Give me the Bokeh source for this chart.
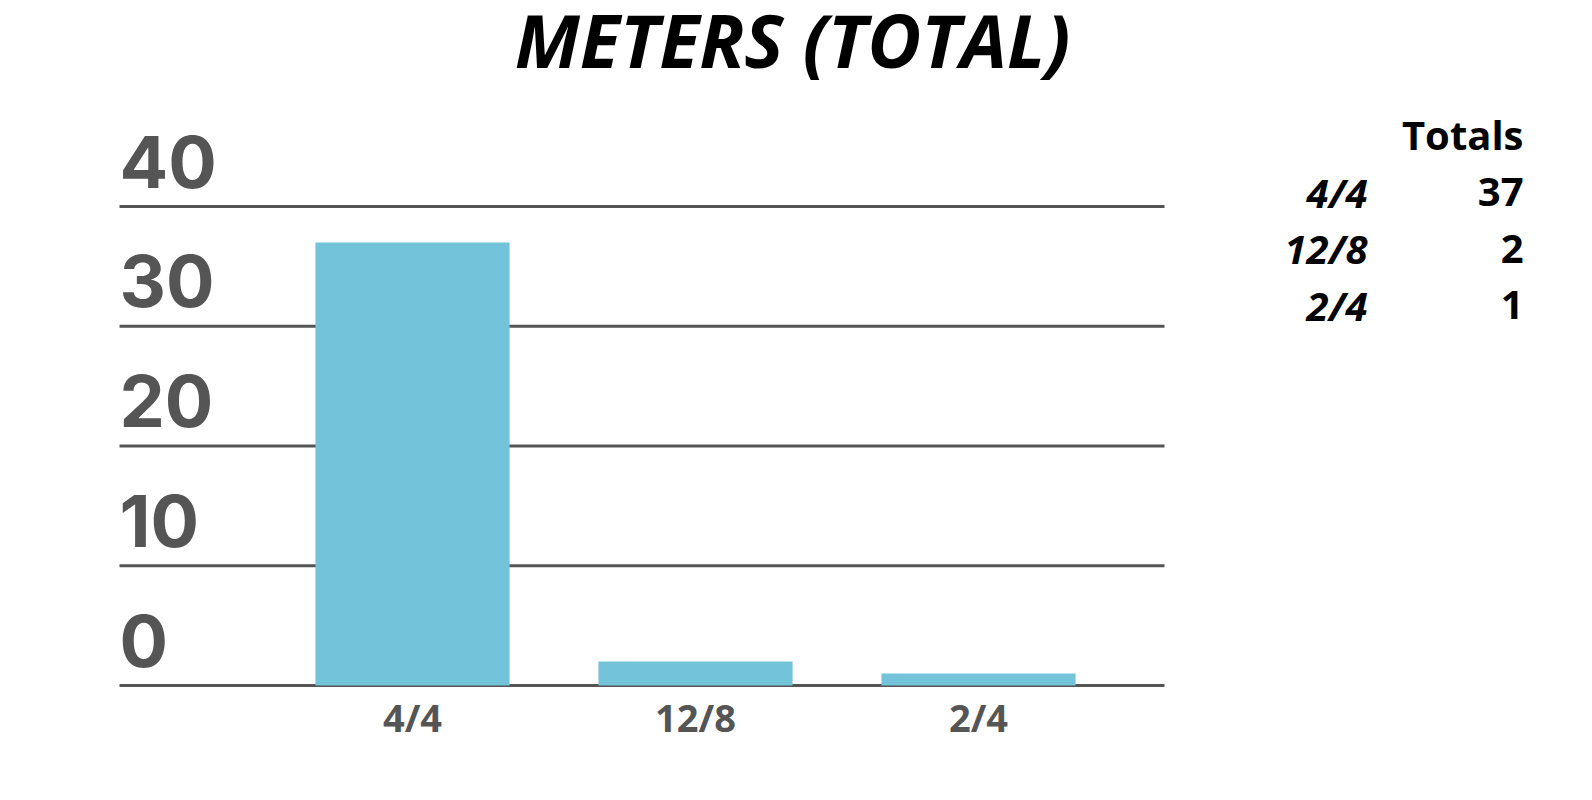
from bokeh.plotting import figure
from bokeh.models import Range1d, FixedTicker
from bokeh.embed import file_html
from bokeh.resources import INLINE
from bokeh.core.properties import value

# ---- data ----
title_text = "METERS (TOTAL)"
categories = ["4/4", "12/8", "2/4"]
counts = [37, 2, 1]
y_ticks = [0, 10, 20, 30, 40]
table_header = "Totals"

# ---- style / layout ----
FONT = "Open Sans"
NUM_FONT = "Inter"
GRAY = "#555555"
BAR = "#73C3DA"

W = 1584
H = 790
FRAME_B = 688          # frame bottom (px from top)
PX_X = 283.0           # px per category
PX_Y = 11.975          # px per unit
X_ORIGIN = 412         # px of first category centre
Y_ORIGIN = 685         # px of value 0

x_start = -X_ORIGIN / PX_X
x_end = (W - X_ORIGIN) / PX_X
y_start = -(FRAME_B - Y_ORIGIN) / PX_Y
y_end = Y_ORIGIN / PX_Y
chart_x0 = (119 - X_ORIGIN) / PX_X
chart_x1 = (1164 - X_ORIGIN) / PX_X

p = figure(width=W, height=H, x_range=Range1d(x_start, x_end), y_range=Range1d(y_start, y_end),
           output_backend="svg", toolbar_location=None, title=None,
           min_border_left=0, min_border_right=0, min_border_top=0,
           min_border_bottom=H - FRAME_B, y_axis_location=None)
p.extra_x_ranges = {"px": Range1d(0, W)}
p.extra_y_ranges = {"px": Range1d(FRAME_B, 0)}
p.outline_line_color = None
p.grid.visible = False
p.background_fill_color = "white"
p.border_fill_color = "white"

# gridlines at the tick values
p.segment(x0=[chart_x0] * len(y_ticks), x1=[chart_x1] * len(y_ticks), y0=y_ticks, y1=y_ticks,
          line_color=GRAY, line_width=3)

# bars
x_idx = list(range(len(categories)))
p.vbar(x=x_idx, top=counts, bottom=0, width=0.686, color=BAR, line_color=None)

# y tick labels (sit above their gridline)
p.text(x=[chart_x0] * len(y_ticks), y=y_ticks, text=[str(t) for t in y_ticks],
       text_align="left", text_baseline="alphabetic", y_offset=-45,
       text_font=value(NUM_FONT), text_font_style="bold", text_font_size="72px",
       text_color=GRAY)

# x axis
ax = p.xaxis[0]
ax.ticker = FixedTicker(ticks=x_idx)
ax.major_label_overrides = {i: c for i, c in zip(x_idx, categories)}
ax.axis_line_color = None
ax.major_tick_line_color = None
ax.minor_tick_line_color = None
ax.major_tick_out = 0
ax.major_tick_in = 0
ax.major_label_standoff = 2
ax.major_label_text_font = FONT
ax.major_label_text_font_style = "bold"
ax.major_label_text_font_size = "38px"
ax.major_label_text_color = GRAY

# title
p.text(x=[W / 2], y=[39], text=[title_text], text_align="center", text_baseline="alphabetic",
       text_font=value(FONT), text_font_style="bold italic", text_font_size="74px",
       text_color="black", x_range_name="px", y_range_name="px")

# totals table
LBL_R = 1367
VAL_R = 1523
p.text(x=[VAL_R], y=[134], text=[table_header], text_align="right", text_baseline="alphabetic",
       text_font=value(FONT), text_font_style="bold", text_font_size="40px", text_color="black",
       x_range_name="px", y_range_name="px")
row_y = [191.5 + 56.5 * i for i in range(len(categories))]
p.text(x=[LBL_R] * len(categories), y=row_y, text=categories, text_align="right",
       text_baseline="alphabetic", text_font=value(FONT), text_font_style="bold italic",
       text_font_size="40px", text_color="black", x_range_name="px", y_range_name="px")
p.text(x=[VAL_R] * len(counts), y=row_y, text=[str(c) for c in counts], text_align="right",
       text_baseline="alphabetic", text_font=value(FONT), text_font_style="bold",
       text_font_size="40px", text_color="black", x_range_name="px", y_range_name="px")

open("out.html", "w").write(file_html(p, INLINE))
